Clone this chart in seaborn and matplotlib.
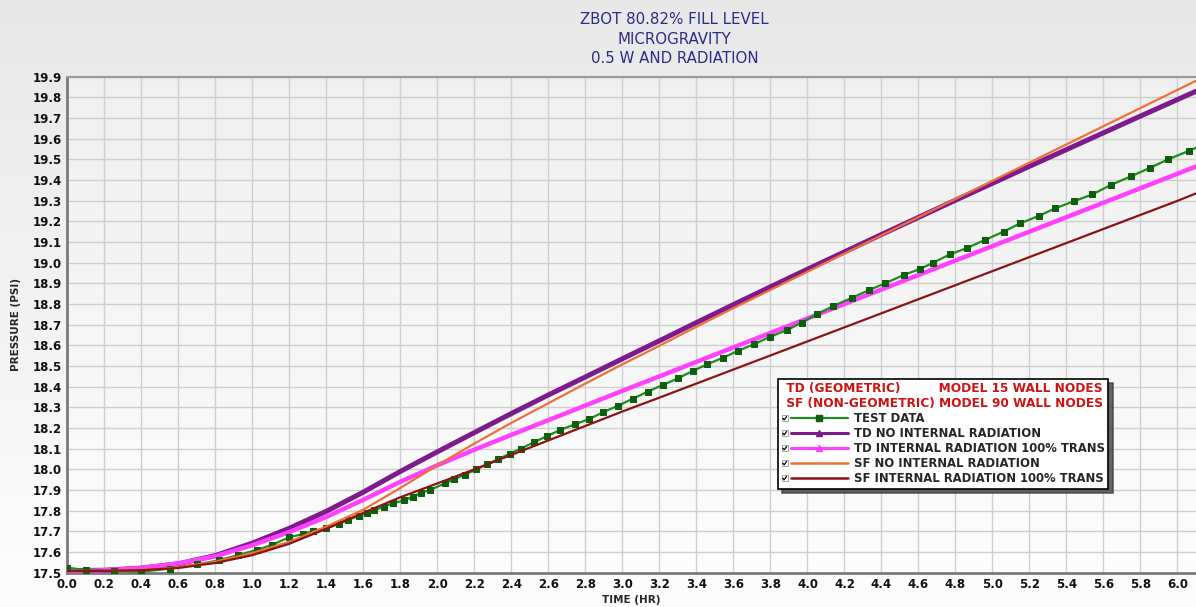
import matplotlib
matplotlib.use("Agg")
import matplotlib.pyplot as plt
from matplotlib.lines import Line2D
from matplotlib.patches import Rectangle
from matplotlib.legend_handler import HandlerLine2D
import seaborn as sns
import pandas as pd
import numpy as np

# model output times (hr)
t_model = [0.0, 0.2, 0.4, 0.6, 0.8, 1.0, 1.2, 1.4, 1.6, 1.8, 2.0, 2.2, 2.4, 2.6, 2.8, 3.0,
           3.2, 3.4, 3.6, 3.8, 4.0, 4.2, 4.4, 4.6, 4.8, 5.0, 5.2, 5.4, 5.6, 5.8, 6.0, 6.1]

td_no_rad = [17.510, 17.512, 17.522, 17.543, 17.583, 17.643, 17.715, 17.797, 17.890, 17.990,
             18.085, 18.178, 18.270, 18.360, 18.447, 18.535, 18.622, 18.710, 18.797, 18.883,
             18.968, 19.052, 19.136, 19.219, 19.302, 19.384, 19.466, 19.547, 19.628, 19.709,
             19.789, 19.829]
td_rad = [17.508, 17.512, 17.523, 17.545, 17.580, 17.633, 17.697, 17.770, 17.853, 17.940,
          18.020, 18.095, 18.167, 18.238, 18.309, 18.380, 18.450, 18.520, 18.590, 18.660,
          18.730, 18.800, 18.870, 18.940, 19.010, 19.080, 19.150, 19.220, 19.290, 19.360,
          19.430, 19.465]
sf_no_rad = [17.508, 17.509, 17.513, 17.526, 17.553, 17.595, 17.650, 17.723, 17.805, 17.910,
             18.020, 18.125, 18.225, 18.320, 18.415, 18.508, 18.598, 18.690, 18.780, 18.868,
             18.956, 19.044, 19.132, 19.220, 19.308, 19.396, 19.484, 19.572, 19.660, 19.748,
             19.836, 19.880]
sf_rad = [17.508, 17.509, 17.512, 17.523, 17.547, 17.585, 17.640, 17.713, 17.790, 17.865,
          17.932, 18.000, 18.070, 18.140, 18.210, 18.280, 18.347, 18.415, 18.483, 18.551,
          18.619, 18.687, 18.755, 18.823, 18.891, 18.959, 19.027, 19.095, 19.163, 19.231,
          19.299, 19.335]

# test data
t_test = [0.0, 0.1, 0.25, 0.40, 0.555, 0.70, 0.82, 0.925, 1.024, 1.105, 1.20, 1.276, 1.33,
          1.40, 1.467, 1.515, 1.575, 1.62, 1.66, 1.71, 1.76, 1.82, 1.87, 1.91, 1.96, 2.04,
          2.09, 2.15, 2.21, 2.27, 2.33, 2.39, 2.45, 2.52, 2.59, 2.662, 2.744, 2.822, 2.897,
          2.978, 3.056, 3.137, 3.218, 3.299, 3.38, 3.458, 3.543, 3.627, 3.712, 3.80, 3.89,
          3.97, 4.05, 4.14, 4.24, 4.33, 4.42, 4.52, 4.61, 4.68, 4.77, 4.86, 4.96, 5.06, 5.15,
          5.25, 5.34, 5.44, 5.54, 5.64, 5.75, 5.85, 5.95, 6.06, 6.16]
p_test = [17.525, 17.512, 17.508, 17.505, 17.520, 17.540, 17.560, 17.586, 17.610, 17.634,
          17.672, 17.687, 17.703, 17.715, 17.736, 17.755, 17.774, 17.790, 17.803, 17.820,
          17.836, 17.850, 17.868, 17.887, 17.900, 17.932, 17.952, 17.975, 18.000, 18.025,
          18.050, 18.075, 18.100, 18.130, 18.160, 18.190, 18.218, 18.244, 18.277, 18.308,
          18.342, 18.376, 18.408, 18.440, 18.476, 18.508, 18.540, 18.574, 18.606, 18.642,
          18.674, 18.710, 18.750, 18.790, 18.830, 18.866, 18.900, 18.940, 18.970, 19.000,
          19.040, 19.070, 19.110, 19.150, 19.190, 19.226, 19.263, 19.297, 19.330, 19.376,
          19.418, 19.458, 19.500, 19.540, 19.580]

labels = ["TEST DATA", "TD NO INTERNAL RADIATION", "TD INTERNAL RADIATION 100% TRANS",
          "SF NO INTERNAL RADIATION", "SF INTERNAL RADIATION 100% TRANS"]
colors = ["#1f8a1f", "#7d1a8c", "#ff40ff", "#f0703a", "#8a1414"]


class CheckHandler(HandlerLine2D):
    """legend line with a small ticked check box in front of it"""
    box = 4.4   # points
    gap = 6.5   # points reserved for the box

    def create_artists(self, legend, orig_handle, xdescent, ydescent, width, height,
                       fontsize, trans):
        arts = super().create_artists(legend, orig_handle, xdescent - self.gap, ydescent,
                                      width - self.gap, height, fontsize, trans)
        x0 = -xdescent
        yc = (height - ydescent) / 2 - ydescent / 2
        b = self.box
        rect = Rectangle((x0, yc - b / 2), b, b, facecolor="white", edgecolor="#9a9a9a",
                         lw=0.6, transform=trans)
        tick = Line2D([x0 + 0.9, x0 + 1.9, x0 + 3.6], [yc + 0.1, yc - 1.1, yc + 1.3],
                      color="black", lw=0.9, transform=trans)
        return [rect, tick] + list(arts)


sns.set_theme(style="white")
plt.rcParams["font.family"] = ["DejaVu Sans"]

fig = plt.figure(figsize=(11.96, 6.07), dpi=100)

# light grey -> white backdrop
bg = fig.add_axes([0, 0, 1, 1], zorder=-10)
grad = np.linspace(0, 1, 256).reshape(-1, 1)
bg.imshow(grad, aspect="auto", cmap=matplotlib.colors.LinearSegmentedColormap.from_list(
    "bg", ["#e8e8e8", "#fdfdfd"]), extent=[0, 1, 0, 1])
bg.set_axis_off()

ax = fig.add_axes([0.0563, 0.0565, 0.9437, 0.8173])
ax.set_facecolor((1, 1, 1, 0.25))

df_model = pd.DataFrame({"t": t_model, "td_no": td_no_rad, "td_rad": td_rad,
                         "sf_no": sf_no_rad, "sf_rad": sf_rad})
df_test = pd.DataFrame({"t": t_test, "p": p_test})

sns.lineplot(data=df_model, x="t", y="td_no", ax=ax, color=colors[1], lw=3.6, zorder=3)
sns.lineplot(data=df_model, x="t", y="td_rad", ax=ax, color=colors[2], lw=3.2, zorder=3)
sns.lineplot(data=df_test, x="t", y="p", ax=ax, color=colors[0], lw=1.6, marker="s",
             markersize=4.8, markerfacecolor="#0d5e0d", markeredgecolor="#0d5e0d", zorder=4)
sns.lineplot(data=df_model, x="t", y="sf_no", ax=ax, color=colors[3], lw=1.6, zorder=5)
sns.lineplot(data=df_model, x="t", y="sf_rad", ax=ax, color=colors[4], lw=1.6, zorder=5)

ax.set_xlim(0, 6.1)
ax.set_ylim(17.5, 19.9)
ax.set_xticks(np.arange(0, 6.01, 0.2))
ax.set_yticks(np.arange(17.5, 19.91, 0.1))
ax.set_xticklabels([f"{v:.1f}" for v in np.arange(0, 6.01, 0.2)])
ax.set_yticklabels([f"{v:.1f}" for v in np.arange(17.5, 19.91, 0.1)])
ax.tick_params(axis="both", length=0, labelsize=8.5, colors="#111111", pad=4)
for lab in ax.get_xticklabels() + ax.get_yticklabels():
    lab.set_fontweight("bold")
ax.grid(True, color="#cfcfcf", lw=1)
ax.set_axisbelow(True)

for side in ["left", "bottom"]:
    ax.spines[side].set_color("#7a7a7a")
    ax.spines[side].set_linewidth(2)
ax.spines["top"].set_color("#9a9a9a")
ax.spines["top"].set_linewidth(1.5)
ax.spines["right"].set_visible(False)

ax.set_xlabel("TIME (HR)", fontsize=7.5, fontweight="bold", labelpad=3)
ax.set_ylabel("PRESSURE (PSI)", fontsize=7.5, fontweight="bold", labelpad=8)

fig.text(0.564, 0.98, "ZBOT 80.82% FILL LEVEL\nMICROGRAVITY\n0.5 W AND RADIATION",
         ha="center", va="top", color="#2b2b8a", fontsize=10.8, linespacing=1.38)

# legend
handles = [
    Line2D([], [], color=colors[0], lw=1.6, marker="s", markersize=4.5,
           markerfacecolor="#0d5e0d", markeredgecolor="#0d5e0d"),
    Line2D([], [], color=colors[1], lw=2.2, marker="^", markersize=4),
    Line2D([], [], color=colors[2], lw=2.2, marker="^", markersize=4),
    Line2D([], [], color=colors[3], lw=1.8),
    Line2D([], [], color=colors[4], lw=1.8),
]
leg = ax.legend(handles, labels, loc="upper left", bbox_to_anchor=(0.6297, 0.3906),
                borderaxespad=0, fancybox=False, frameon=True, edgecolor="black",
                facecolor="white", framealpha=1, handlelength=5.7, handletextpad=0.5,
                labelspacing=0.17, borderpad=0.3,
                handler_map={Line2D: CheckHandler()},
                prop={"weight": "bold", "size": 8.4},
                title=" TD (GEOMETRIC)         MODEL 15 WALL NODES\n SF (NON-GEOMETRIC) MODEL 90 WALL NODES",
                title_fontproperties={"weight": "bold", "size": 8.7},
                alignment="left",
                shadow={"ox": 3, "oy": -3, "color": "0.25", "alpha": 0.8})
leg.get_frame().set_linewidth(1.2)
leg.get_title().set_color("#cc1414")
leg.get_title().set_linespacing(1.2)
leg.set_zorder(10)

fig.savefig("out.png", dpi=100)
